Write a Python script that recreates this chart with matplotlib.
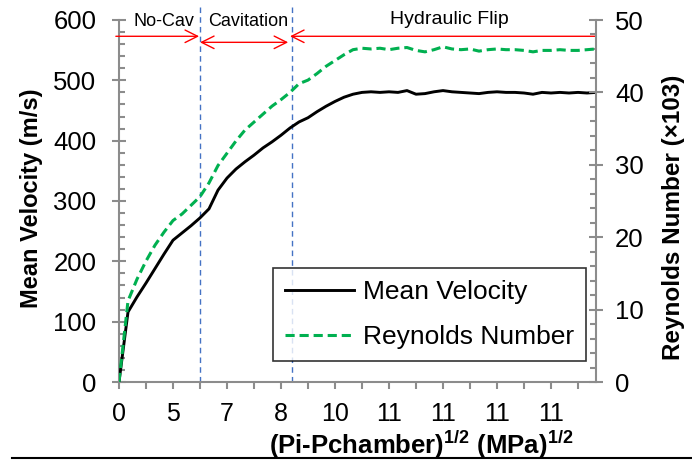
import numpy as np
import matplotlib
matplotlib.use('Agg')
import matplotlib.pyplot as plt
from matplotlib.lines import Line2D
from matplotlib.ticker import MultipleLocator

plt.rcParams['font.family'] = ['Liberation Sans', 'DejaVu Sans']
plt.rcParams['mathtext.fontset'] = 'custom'
plt.rcParams['mathtext.bf'] = 'Liberation Sans:bold'
plt.rcParams['mathtext.rm'] = 'Liberation Sans'
plt.rcParams['mathtext.default'] = 'bf'

# mean velocity (m/s) per sample
velocity = [0, 116, 141, 164, 188, 212, 235, 247, 259, 272,
            287, 318, 338, 353, 365, 376, 388, 398, 409, 421,
            431, 438, 448, 457, 465, 472, 477, 480, 481, 480,
            481, 480, 483, 477, 478, 481, 483, 481, 480, 479,
            478, 480, 481, 480, 480, 479, 477, 480, 479, 480,
            479, 480, 479, 480]

# Reynolds number (x10^3) per sample
reynolds = [0, 11.2, 14.2, 16.7, 18.9, 20.7, 22.3, 23.2, 24.4, 25.6,
            27.5, 29.9, 31.6, 33.3, 34.8, 35.9, 37.0, 38.1, 39.0, 40.0,
            41.2, 41.7, 42.6, 43.6, 44.4, 45.2, 45.9, 46.1, 46.0, 46.1,
            45.9, 46.1, 46.2, 45.8, 45.6, 45.9, 46.3, 46.0, 45.9, 46.0,
            45.7, 45.9, 46.0, 45.9, 45.9, 45.8, 45.6, 45.8, 45.8, 45.9,
            45.8, 45.8, 45.9, 46.0]

# category labels shown under every second tick
xlabels = ['0', '5', '7', '8', '10', '11', '11', '11', '11']

# regime boundaries (sample index)
boundaries = [9.0, 19.2]
regimes = ['No-Cav', 'Cavitation', 'Hydraulic Flip']

gray = '#8c8c8c'
x = np.arange(len(velocity))

fig = plt.figure(figsize=(6.92, 4.62), dpi=100)
ax = fig.add_axes([119/692, 1 - 382/462, 477/692, 362/462])
ax2 = ax.twinx()

ax.plot(x, velocity, color='black', lw=2.1, label='Mean Velocity', zorder=3)
ax2.plot(x, reynolds, color='#00b050', lw=2.2, ls=(0, (3, 1.6)),
         label='Reynolds Number', zorder=3)

ax.set_xlim(0, len(velocity) - 1)
ax.set_ylim(0, 600)
ax2.set_ylim(0, 50)

ax.set_xticks(np.arange(0, len(velocity) - 1, 3))
ax.set_xticklabels([xlabels[i // 2] if i % 2 == 0 else ''
                    for i in range(len(ax.get_xticks()))])
ax.yaxis.set_major_locator(MultipleLocator(100))
ax.yaxis.set_minor_locator(MultipleLocator(20))
ax2.yaxis.set_major_locator(MultipleLocator(10))
ax2.yaxis.set_minor_locator(MultipleLocator(2))

for a in (ax, ax2):
    a.spines['top'].set_visible(False)
    for s in ('left', 'right', 'bottom'):
        a.spines[s].set_color(gray)
        a.spines[s].set_linewidth(1.5)
ax.spines['right'].set_visible(False)
ax2.spines['left'].set_visible(False)
ax2.spines['bottom'].set_visible(False)

ax.tick_params(axis='x', direction='out', length=5, width=1.5, color=gray,
               labelsize=18, pad=9.5)
ax.tick_params(axis='y', which='major', direction='inout', length=9.5,
               width=1.5, color=gray, labelsize=18.5, pad=11.5)
ax.tick_params(axis='y', which='minor', direction='in', length=4,
               width=1.5, color=gray)
ax2.tick_params(axis='y', which='major', direction='inout', length=9.5,
                width=1.5, color=gray, labelsize=18.5, pad=9)
ax2.tick_params(axis='y', which='minor', direction='in', length=4,
                width=1.5, color=gray)

ax.set_ylabel('Mean Velocity (m/s)', fontsize=17, fontweight='bold')
ax.yaxis.set_label_coords(-0.159, 0.508)
ax2.set_ylabel('Reynolds Number (×103)', fontsize=17.5, fontweight='bold')
ax2.yaxis.set_label_coords(1.138, 0.455)
ax.set_xlabel(r'(Pi-Pchamber)$^{1/2}$ (MPa)$^{1/2}$', fontsize=18.5,
              fontweight='bold')
ax.xaxis.set_label_coords(0.633, -0.13)

# regime boundaries
for b in boundaries:
    ax.plot([b, b], [0, 627], color='#4472c4', lw=1.0, ls=(0, (4, 3)),
            clip_on=False, zorder=2)

# regime arrows and labels
arrow = dict(color='red', lw=1.0, shrinkA=0, shrinkB=0)
ax.annotate('', xy=(boundaries[0] - 0.1, 573), xytext=(-0.35, 573),
            arrowprops=dict(arrowstyle='->,head_length=0.9,head_width=0.45', **arrow))
ax.annotate('', xy=(boundaries[1] - 0.4, 563), xytext=(boundaries[0], 563),
            arrowprops=dict(arrowstyle='<->,head_length=0.9,head_width=0.45', **arrow))
ax.annotate('', xy=(boundaries[1] - 0.2, 573), xytext=(len(velocity) - 1, 573),
            arrowprops=dict(arrowstyle='->,head_length=0.9,head_width=0.45', **arrow))
ax.text(5.0, 598, regimes[0], ha='center', va='center', fontsize=13)
ax.text(14.4, 598, regimes[1], ha='center', va='center', fontsize=13)
ax.text(36.7, 600, regimes[2], ha='center', va='center', fontsize=14)

h1, l1 = ax.get_legend_handles_labels()
h2, l2 = ax2.get_legend_handles_labels()
leg = ax2.legend(h1 + h2, l1 + l2, loc='upper left',
                 bbox_to_anchor=(0.323, 0.315), borderaxespad=0,
                 fontsize=19, frameon=True, fancybox=False,
                 handlelength=2.6, handletextpad=0.35, labelspacing=0.8,
                 borderpad=0.45)
leg.get_frame().set_edgecolor('black')
leg.get_frame().set_linewidth(1.2)

fig.add_artist(Line2D([12/692, 1], [1 - 458/462, 1 - 458/462],
                      transform=fig.transFigure, color='black', lw=1.5))

fig.savefig('out.png', dpi=100)
